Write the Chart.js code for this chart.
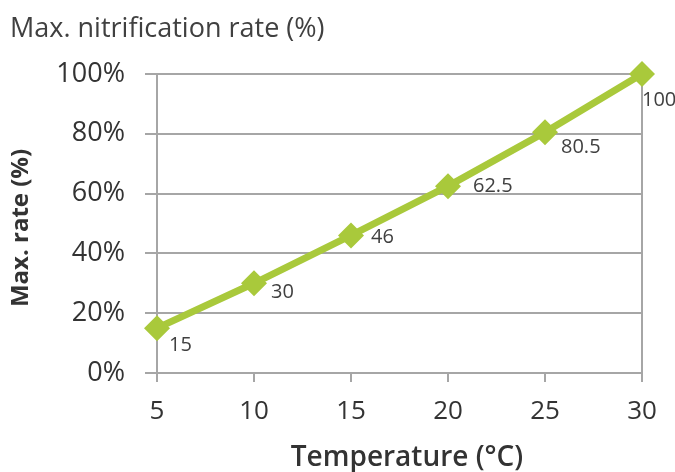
<!DOCTYPE html>
<html><head><meta charset="utf-8">
<script src="https://cdn.jsdelivr.net/npm/chart.js@4"></script>
<style>html,body{margin:0;padding:0;background:#fff}#wrap{width:675px;height:472px}</style>
</head><body><div id="wrap"><canvas id="c" width="675" height="472"></canvas></div>
<script>
const temperatures = [5, 10, 15, 20, 25, 30];
const maxRate = [15, 30, 46, 62.5, 80.5, 100];
const rateLabels = ['15', '30', '46', '62.5', '80.5', '100'];
const chartTitle = 'Max. nitrification rate (%)';
const yTitle = 'Max. rate (%)';
const xTitle = 'Temperature (°C)';

const FONT = "'Open Sans', 'Noto Sans', sans-serif";
const GRID = '#a6a6a6';
const LINE = '#a9c93b';
// label placement offsets (px) relative to each marker
const labelDx = [12, 17, 20, 25, 16, 0];
const labelDy = [17, 9, 2, 0, 15, 26];

const textPlugin = {
  id: 'texts',
  afterDraw(chart) {
    const ctx = chart.ctx;
    const meta = chart.getDatasetMeta(0);
    ctx.save();
    ctx.font = "20px " + FONT;
    ctx.fillStyle = '#404040';
    ctx.textAlign = 'left';
    ctx.textBaseline = 'middle';
    meta.data.forEach((pt, i) => {
      ctx.fillText(rateLabels[i], pt.x + labelDx[i], pt.y + labelDy[i]);
    });
    // chart title
    ctx.font = "27px " + FONT;
    ctx.textBaseline = 'alphabetic';
    ctx.fillText(chartTitle, 10, 37);
    // x title
    ctx.fillStyle = '#333';
    ctx.font = "600 28px " + FONT;
    ctx.textAlign = 'center';
    ctx.textBaseline = 'middle';
    ctx.fillText(xTitle, 407, 458);
    // y title
    ctx.font = "bold 24px " + FONT;
    ctx.translate(21, 228);
    ctx.rotate(-Math.PI / 2);
    ctx.fillText(yTitle, 0, 0);
    ctx.restore();
  }
};

new Chart(document.getElementById('c'), {
  type: 'line',
  data: {
    datasets: [{
      data: temperatures.map((t, i) => ({x: t, y: maxRate[i]})),
      borderColor: LINE,
      backgroundColor: LINE,
      borderWidth: 7,
      pointStyle: 'rectRot',
      pointRadius: 13,
      pointHoverRadius: 13,
      pointBorderWidth: 0,
      tension: 0,
      clip: false
    }]
  },
  options: {
    responsive: false,
    animation: false,
    layout: {padding: {top: 74, right: 33, left: 0, bottom: 0}},
    plugins: {legend: {display: false}, tooltip: {enabled: false}},
    scales: {
      x: {
        type: 'linear', min: 5, max: 30,
        afterFit: s => { s.height = 99; },
        ticks: {stepSize: 5, color: '#333', font: {size: 26, family: FONT}, padding: 14, maxRotation: 0},
        grid: {
          color: c => (c.tick && c.tick.value === 30) ? GRID : 'rgba(0,0,0,0)',
          tickColor: GRID, tickLength: 9, lineWidth: 2
        },
        border: {color: GRID, width: 2}
      },
      y: {
        min: 0, max: 100,
        afterFit: s => { s.width = 157; },
        ticks: {stepSize: 20, color: '#333', font: {size: 27, family: FONT}, padding: 20, callback: v => v + '%'},
        grid: {color: GRID, tickColor: GRID, tickLength: 12, lineWidth: 2},
        border: {color: GRID, width: 2}
      }
    }
  },
  plugins: [textPlugin]
});
</script>
</body></html>
